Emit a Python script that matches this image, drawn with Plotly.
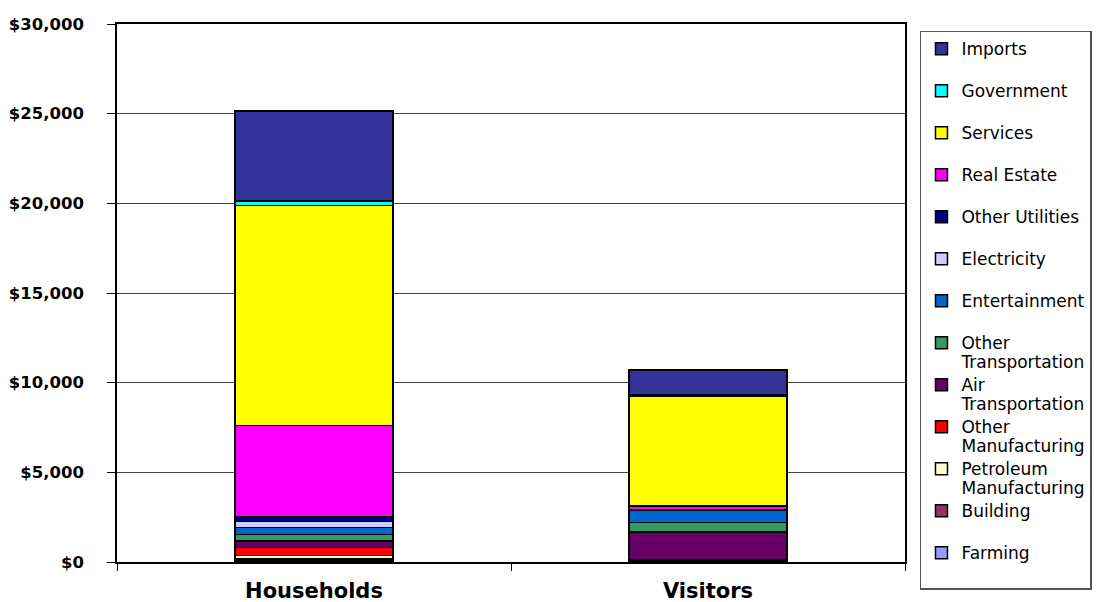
import plotly.graph_objects as go

# Spending by sector, in stacking order (bottom to top)
categories = ["Households", "Visitors"]
sectors = [
    "Farming", "Building", "Petroleum Manufacturing", "Other Manufacturing",
    "Air Transportation", "Other Transportation", "Entertainment",
    "Electricity", "Other Utilities", "Real Estate", "Services",
    "Government", "Imports",
]
households = [90, 70, 200, 460, 350, 375, 370, 355, 240, 5115, 12255, 250, 5020]
visitors = [20, 30, 30, 40, 1540, 530, 700, 30, 20, 180, 6100, 80, 1420]
colors = [
    "#9999FF", "#993366", "#FFFFCC", "#FF0000", "#660066", "#339966",
    "#0066CC", "#CCCCFF", "#000080", "#FF00FF", "#FFFF00", "#00FFFF",
    "#333399",
]
# Legend labels, wrapped the way they appear in the key
legend_labels = {
    "Petroleum Manufacturing": ["Petroleum", "Manufacturing"],
    "Other Manufacturing": ["Other", "Manufacturing"],
    "Air Transportation": ["Air", "Transportation"],
    "Other Transportation": ["Other", "Transportation"],
}

LEG_SPAN = "<span style='font-size:17px'>{}</span>"


def legend_name(sector):
    lines = legend_labels.get(sector, [sector, "&nbsp;"])
    return "<br>".join(LEG_SPAN.format(t) for t in lines)


fig = go.Figure()
for i, sector in enumerate(sectors):
    fig.add_trace(go.Bar(
        x=categories,
        y=[households[i], visitors[i]],
        name=legend_name(sector),
        marker=dict(color=colors[i], line=dict(color="black", width=1.5)),
        hovertemplate=sector + ": $%{y:,}<extra>%{x}</extra>",
    ))

fig.update_layout(
    barmode="stack",
    bargap=0.6,
    width=1114,
    height=602,
    margin=dict(l=117, r=209, t=24, b=40, autoexpand=False),
    paper_bgcolor="white",
    plot_bgcolor="white",
    font=dict(family="DejaVu Sans", color="black"),
    legend=dict(
        x=1.019, xanchor="left", y=0.987, yanchor="top",
        traceorder="reversed",
        valign="top",
        maxheight=600,
        font=dict(size=15, family="DejaVu Sans", color="black"),
        bordercolor="#555555", borderwidth=1.5,
        bgcolor="white",
    ),
    xaxis=dict(
        showline=True, linecolor="black", linewidth=1.5, mirror=True,
        ticks="outside", tickson="boundaries", ticklen=7, tickcolor="black",
        ticklabelstandoff=9,
        tickfont=dict(family="DejaVu Sans", size=21, color="black", weight="bold"),
        showgrid=False,
    ),
    yaxis=dict(
        range=[0, 30000], dtick=5000, tickprefix="$", tickformat=",d",
        showline=True, linecolor="black", linewidth=1.5, mirror=True,
        ticks="outside", ticklen=8, tickcolor="black",
        ticklabelstandoff=20,
        tickfont=dict(family="DejaVu Sans", size=16.5, color="black", weight="bold"),
        showgrid=True, gridcolor="#444444", gridwidth=1,
        zeroline=False,
    ),
)

fig.write_html("out.html")
